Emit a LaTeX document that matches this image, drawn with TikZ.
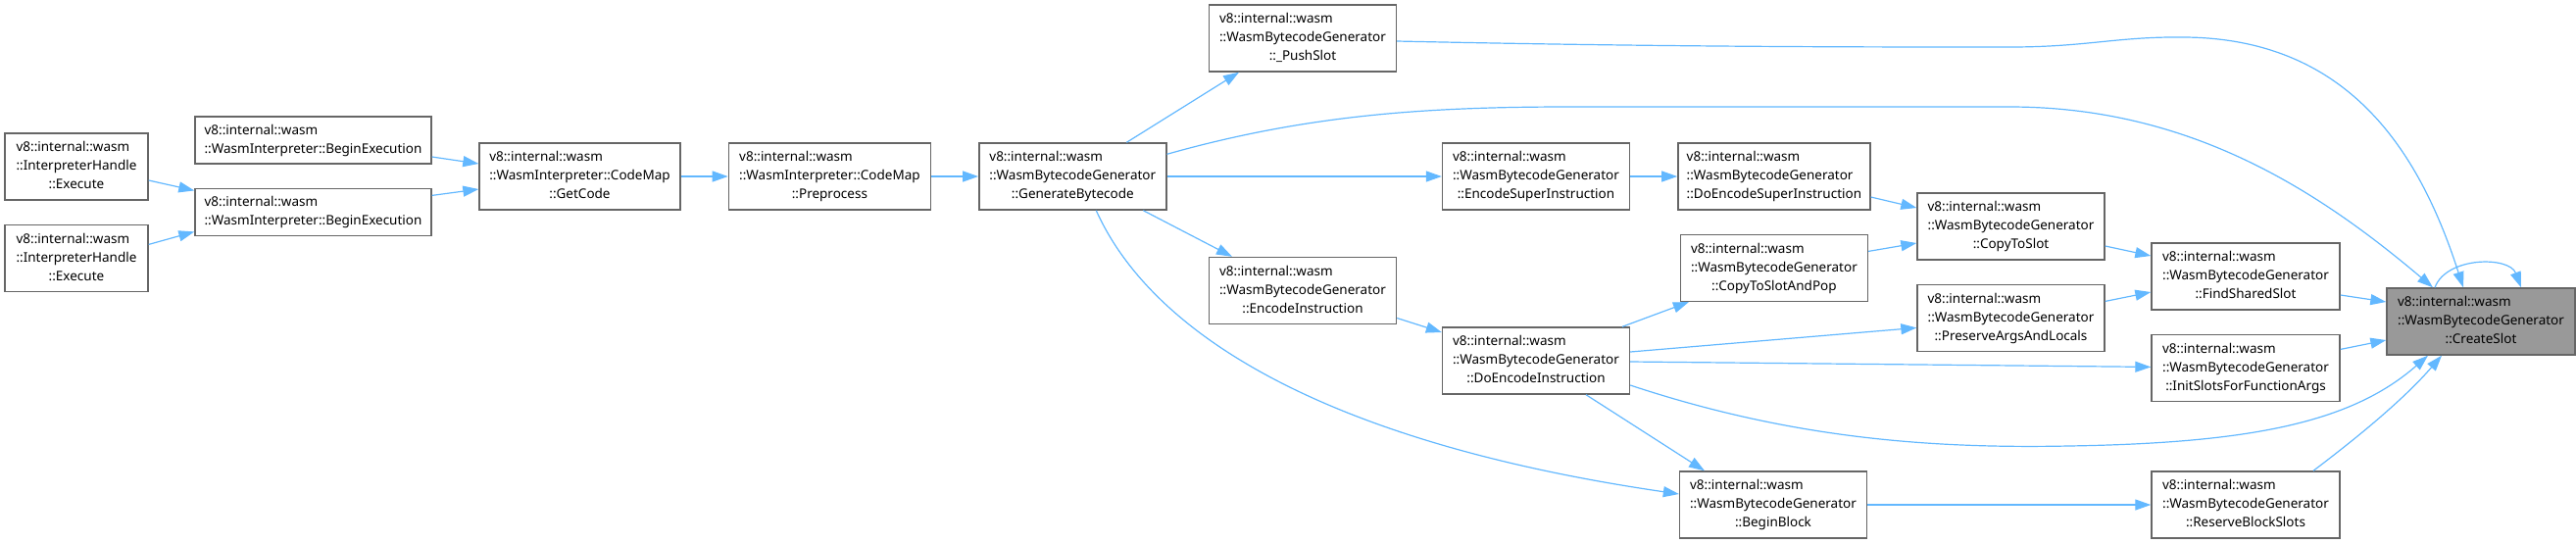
\documentclass[tikz,border=0pt]{standalone}
\usepackage{fontspec}
\setmainfont{Noto Sans}
\usepackage{tikz}
\usetikzlibrary{arrows.meta,positioning,calc}
\usepackage{xcolor}
\definecolor{edgeblue}{RGB}{99,184,255}
\definecolor{boxline} {RGB}{102,102,102}
\definecolor{curfill} {RGB}{153,153,153}

% three-line and two-line function labels
\newcommand{\fnthree}[3]{\begin{tabular}{@{}l@{}}#1\\#2\\\multicolumn{1}{@{}c@{}}{#3}\end{tabular}}
\newcommand{\fntwo}[2]{\begin{tabular}{@{}l@{}}#1\\#2\end{tabular}}

\begin{document}
\begin{tikzpicture}[
    x=0.5pt, y=-0.5pt,
    node distance=12pt and 24pt,
    fnbox/.style={draw=boxline, fill=white, line width=0.7pt, rectangle, minimum width=95.5pt, minimum height=34pt, inner sep=0pt, font=\fontsize{6.75}{9.5}\selectfont},
    twobox/.style={fnbox, minimum height=24pt},
    curbox/.style={fnbox, fill=curfill},
    arrow/.style={-{Triangle[length=8pt,width=5.5pt]}, color=edgeblue, line width=0.6pt}
]
    \useasboundingbox (0,0) rectangle (2628,554);

    \node[fnbox, minimum width=73pt] (exA) at (78,170) {\fnthree{v8::internal::wasm}{::InterpreterHandle}{::Execute}};
    \node[fnbox, minimum width=73pt] (exB) [below=of exA] {\fnthree{v8::internal::wasm}{::InterpreterHandle}{::Execute}};
    \node[twobox, minimum width=120.5pt] (beA) at (319.5,143) {\fntwo{v8::internal::wasm}{::WasmInterpreter::BeginExecution}};
    \node[twobox, minimum width=120.5pt] (beB) [below=of beA] {\fntwo{v8::internal::wasm}{::WasmInterpreter::BeginExecution}};
    \node[fnbox, minimum width=102.5pt] (getcode) at (591.5,180) {\fnthree{v8::internal::wasm}{::WasmInterpreter::CodeMap}{::GetCode}};
    \node[fnbox, minimum width=103pt] (preproc) [right=of getcode] {\fnthree{v8::internal::wasm}{::WasmInterpreter::CodeMap}{::Preprocess}};
    \node[fnbox] (genbc) [right=of preproc] {\fnthree{v8::internal::wasm}{::WasmBytecodeGenerator}{::GenerateBytecode}};
    \node[fnbox] (pushslot) at (1329,39) {\fnthree{v8::internal::wasm}{::WasmBytecodeGenerator}{::\_PushSlot}};
    \node[fnbox] (encinstr) at (1329,296.5) {\fnthree{v8::internal::wasm}{::WasmBytecodeGenerator}{::EncodeInstruction}};
    \node[fnbox] (encsuper) at (1567,180) {\fnthree{v8::internal::wasm}{::WasmBytecodeGenerator}{::EncodeSuperInstruction}};
    \node[fnbox] (doencinstr) at (1567,368) {\fnthree{v8::internal::wasm}{::WasmBytecodeGenerator}{::DoEncodeInstruction}};
    \node[fnbox, minimum width=98pt] (doencsuper) [right=of encsuper] {\fnthree{v8::internal::wasm}{::WasmBytecodeGenerator}{::DoEncodeSuperInstruction}};
    \node[fnbox] (copyandpop) [below=of doencsuper] {\fnthree{v8::internal::wasm}{::WasmBytecodeGenerator}{::CopyToSlotAndPop}};
    \node[fnbox] (beginblock) at (1809,515) {\fnthree{v8::internal::wasm}{::WasmBytecodeGenerator}{::BeginBlock}};
    \node[fnbox] (copytoslot) at (2051.5,231) {\fnthree{v8::internal::wasm}{::WasmBytecodeGenerator}{::CopyToSlot}};
    \node[fnbox] (preserve) [below=of copytoslot] {\fnthree{v8::internal::wasm}{::WasmBytecodeGenerator}{::PreserveArgsAndLocals}};
    \node[fnbox, minimum width=96pt] (findshared) at (2291,282) {\fnthree{v8::internal::wasm}{::WasmBytecodeGenerator}{::FindSharedSlot}};
    \node[fnbox, minimum width=96pt] (initslots) [below=of findshared] {\fnthree{v8::internal::wasm}{::WasmBytecodeGenerator}{::InitSlotsForFunctionArgs}};
    \node[fnbox, minimum width=96pt] (reserve) at (2291,515) {\fnthree{v8::internal::wasm}{::WasmBytecodeGenerator}{::ReserveBlockSlots}};
    \node[curbox, minimum width=96pt] (createslot) at (2531,328) {\fnthree{v8::internal::wasm}{::WasmBytecodeGenerator}{::CreateSlot}};

    % left part
    \draw[arrow] ($(exA.east)+(0,14)$) -- ($(beB.west)+(0,-22)$);
    \draw[arrow] ($(exB.east)+(0,-14)$) -- ($(beB.west)+(0,20)$);
    \draw[arrow] ($(beA.east)+(0,17)$) -- ($(getcode.west)+(0,-13)$);
    \draw[arrow] ($(beB.east)+(0,-17)$) -- ($(getcode.west)+(0,13)$);
    \draw[arrow] (getcode) -- (preproc);
    \draw[arrow] (preproc) -- (genbc);

    % out of GenerateBytecode
    \draw[arrow] ($(genbc.north)+(55,0)$) -- ($(pushslot.south)+(-65,0)$);
    \draw[arrow] (genbc) -- (encsuper);
    \draw[arrow] ($(genbc.south)+(72,0)$) -- ($(encinstr.north)+(-72,0)$);
    \draw[arrow] ($(genbc.north east)+(0,12)$) .. controls (1330,118) and (1450,109) .. (1600,109)
        -- (2050,109) .. controls (2230,109) and (2360,190) .. ($(createslot.north)+(-49,0)$);
    \draw[arrow] ($(genbc.south)+(24,0)$) .. controls (1170,330) and (1330,448) .. ($(beginblock.west)+(0,-11)$);
    \draw[arrow] ($(pushslot.east)+(0,3)$) .. controls (1700,48) and (1900,48) .. (2050,48)
        .. controls (2130,48) and (2160,37) .. (2230,38)
        .. controls (2400,40) and (2470,160) .. ($(createslot.north)+(-18,0)$);

    % middle part
    \draw[arrow] (encsuper) -- (doencsuper);
    \draw[arrow] ($(doencsuper.east)+(0,21)$) -- ($(copytoslot.west)+(0,-19)$);
    \draw[arrow] ($(encinstr.east)+(0,28)$) -- ($(doencinstr.west)+(0,-29)$);
    \draw[arrow] ($(doencinstr.north)+(88,0)$) -- ($(copyandpop.south)+(-87,0)$);
    \draw[arrow] ($(doencinstr.east)+(0,-9)$) -- ($(preserve.west)+(0,10)$);
    \draw[arrow] ($(doencinstr.east)+(0,1)$) -- ($(initslots.west)+(0,-1)$);
    \draw[arrow] ($(doencinstr.east)+(0,25)$) .. controls (1820,445) and (1960,458) .. (2110,455)
        .. controls (2300,452) and (2400,430) .. ($(createslot.south)+(-54,0)$);
    \draw[arrow] ($(doencinstr.south)+(51,0)$) -- ($(beginblock.north)+(-70,0)$);
    \draw[arrow] ($(copyandpop.east)+(0,-17)$) -- ($(copytoslot.west)+(0,17)$);

    % right part
    \draw[arrow] ($(copytoslot.east)+(0,20)$) -- ($(findshared.west)+(0,-21)$);
    \draw[arrow] ($(preserve.east)+(0,-17)$) -- ($(findshared.west)+(0,16)$);
    \draw[arrow] ($(findshared.east)+(0,19)$) -- ($(createslot.west)+(0,-20)$);
    \draw[arrow] ($(initslots.east)+(0,-19)$) -- ($(createslot.west)+(0,19)$);
    \draw[arrow] (beginblock) -- (reserve);
    \draw[arrow] ($(reserve.north)+(69,0)$) .. controls (2400,450) and (2450,410) .. ($(createslot.south)+(-40,0)$);
    \draw[arrow] ($(createslot.north)+(-47,0)$) .. controls +(12,-32) and +(-12,-32) .. ($(createslot.north)+(41,0)$);
\end{tikzpicture}
\end{document}
